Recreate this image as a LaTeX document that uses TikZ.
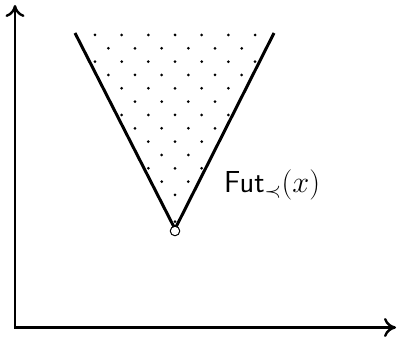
\documentclass[tikz,border=0pt]{standalone}
\usetikzlibrary{arrows.meta}
\begin{document}
\begin{tikzpicture}[x=1pt,y=-1pt,
  axis/.style={line width=2.6pt, line join=miter,
    {Computer Modern Rightarrow[length=12pt,width=19pt,line width=2.4pt]}-{Computer Modern Rightarrow[length=12pt,width=19pt,line width=2.4pt]}},
  cone/.style={line width=3pt, line join=round},
  dotmark/.style={fill=black},
  apexmark/.style={circle, draw, line width=1pt, fill=white, minimum size=9.5pt, inner sep=0pt},
  lbl/.style={anchor=base west, inner sep=0pt}]
\useasboundingbox (0,0) rectangle (397,337);
\coordinate (O) at (15,327.5);
\coordinate (Y) at (15,5);
\coordinate (X) at (396,327.5);
\draw[axis] (Y) -- (O) -- (X);
\coordinate (A) at (175,229);
\coordinate (L) at (75,33);
\coordinate (R) at (274,33);
\begin{scope}
  \clip (L) -- (A) -- (R) -- cycle;
  \foreach \j in {0,...,14}{
    \foreach \k in {-5,...,5}{
      \pgfmathsetmacro{\xx}{175+26.667*\k+13.333*mod(\j,2)}
      \pgfmathsetmacro{\yy}{35+13.333*\j}
      \fill[dotmark] (\xx,\yy) circle (1.5pt);
    }
  }
\end{scope}
\draw[cone] (L) -- (A) -- (R);
\node[apexmark] (x) at (175,231) {};
\node[lbl] (lab) at (224,193) {\scalebox{1.22}{\fontsize{24}{28}\selectfont $\mathsf{Fut}_{\prec}(x)$}};
\end{tikzpicture}
\end{document}
